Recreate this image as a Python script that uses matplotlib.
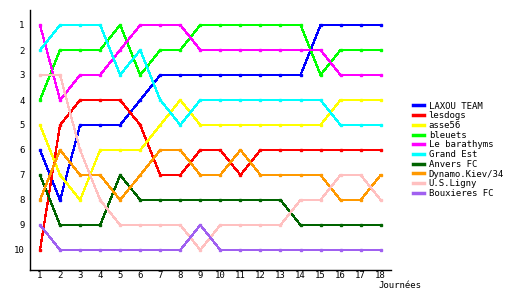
import matplotlib
matplotlib.use('Agg')
import matplotlib.pyplot as plt

journees = list(range(1, 19))

teams = ['LAXOU TEAM', 'lesdogs', 'asse56', 'bleuets', 'Le barathyms',
         'Grand Est', 'Anvers FC', 'Dynamo.Kiev/34', 'U.S.Ligny', 'Bouxieres FC']
colors = ['#0000ff', '#ff0000', '#ffff00', '#00ff00', '#ff00ff',
          '#00ffff', '#006400', '#ff9900', '#ffc0c0', '#a060f0']

laxou = [6, 8, 5, 5, 5, 4, 3, 3, 3, 3, 3, 3, 3, 3, 1, 1, 1, 1]
lesdogs = [10, 5, 4, 4, 4, 5, 7, 7, 6, 6, 7, 6, 6, 6, 6, 6, 6, 6]
asse56 = [5, 7, 8, 6, 6, 6, 5, 4, 5, 5, 5, 5, 5, 5, 5, 4, 4, 4]
bleuets = [4, 2, 2, 2, 1, 3, 2, 2, 1, 1, 1, 1, 1, 1, 3, 2, 2, 2]
barathyms = [1, 4, 3, 3, 2, 1, 1, 1, 2, 2, 2, 2, 2, 2, 2, 3, 3, 3]
grand_est = [2, 1, 1, 1, 3, 2, 4, 5, 4, 4, 4, 4, 4, 4, 4, 5, 5, 5]
anvers = [7, 9, 9, 9, 7, 8, 8, 8, 8, 8, 8, 8, 8, 9, 9, 9, 9, 9]
dynamo = [8, 6, 7, 7, 8, 7, 6, 6, 7, 7, 6, 7, 7, 7, 7, 8, 8, 7]
ligny = [3, 3, 6, 8, 9, 9, 9, 9, 10, 9, 9, 9, 9, 8, 8, 7, 7, 8]
bouxieres = [9, 10, 10, 10, 10, 10, 10, 10, 9, 10, 10, 10, 10, 10, 10, 10, 10, 10]

series = [laxou, lesdogs, asse56, bleuets, barathyms,
          grand_est, anvers, dynamo, ligny, bouxieres]

plt.rcParams['font.family'] = 'DejaVu Sans Mono'

fig = plt.figure(figsize=(5.3, 3.0), dpi=100)
ax = fig.add_axes([30 / 530, 1 - 270 / 300, 360.7 / 530, 260 / 300])

for name, vals, col in zip(teams, series, colors):
    ax.plot(journees, vals, color=col, lw=0.9, marker='s', ms=2,
            mec=col, mfc=col, label=name, antialiased=False)

ax.set_xlim(0.5, 18.5)
ax.set_ylim(10.8, 0.4)
ax.set_xticks(journees)
ax.set_yticks(range(1, 11))
ax.tick_params(length=0, labelsize=6.5)
ax.tick_params(axis='x', pad=1)
ax.tick_params(axis='y', pad=4)
for s in ['top', 'right']:
    ax.spines[s].set_visible(False)
for s in ['left', 'bottom']:
    ax.spines[s].set_linewidth(1)
fig.text(400 / 530, 1 - 285 / 300, 'Journées', fontsize=6.5,
         ha='center', va='center')

leg = fig.legend(loc='upper left', bbox_to_anchor=(408 / 530, 1 - 97 / 300),
                 frameon=False, fontsize=6.5, handlelength=1.3,
                 handletextpad=0.5, labelspacing=0.08, borderpad=0)
for line in leg.get_lines():
    line.set_linewidth(2.5)
    line.set_marker('')

fig.savefig('out.png', dpi=100)
